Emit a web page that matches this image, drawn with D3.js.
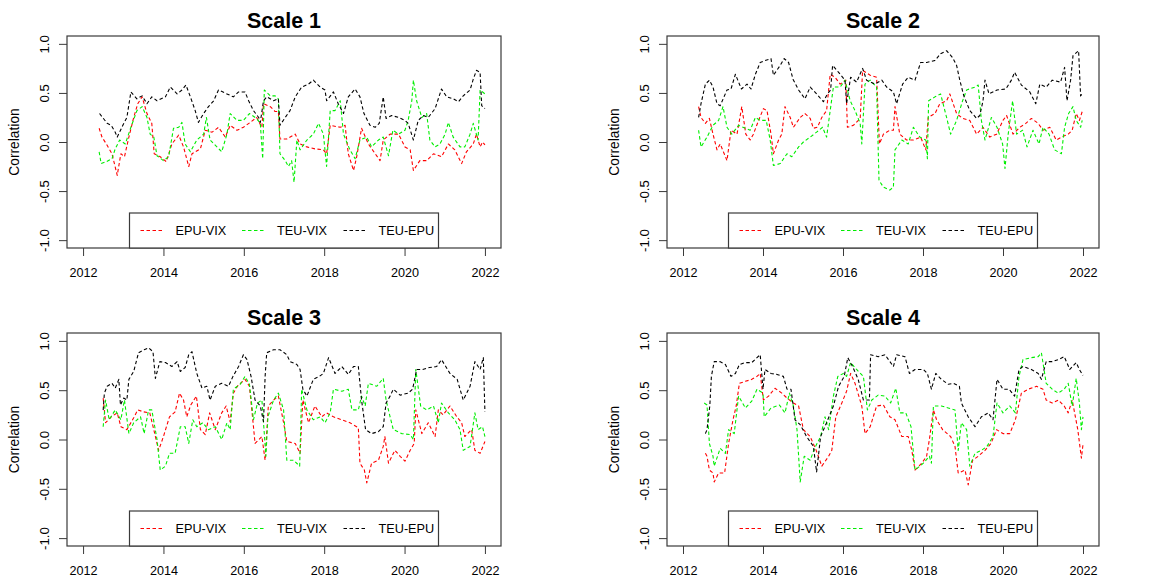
<!DOCTYPE html>
<html>
<head>
<meta charset="utf-8">
<script src="https://cdn.jsdelivr.net/npm/d3@7"></script>
<style>
  body { margin: 0; background: #fff; }
  svg { display: block; font-family: "Liberation Sans", Arial, sans-serif; }
</style>
</head>
<body>
<svg width="1162" height="579"></svg>
<script>
// rolling correlations, [year, correlation]
const scale1EpuVix = [[2012.40,0.14],[2012.47,0.05],[2012.58,-0.02],[2012.72,-0.12],[2012.85,-0.34],[2012.94,-0.12],[2013.03,-0.15],[2013.14,0.05],[2013.26,0.25],[2013.36,0.39],[2013.47,0.46],[2013.59,0.29],[2013.71,0.19],[2013.77,-0.12],[2013.92,-0.15],[2014.07,-0.20],[2014.21,-0.02],[2014.38,0.07],[2014.50,-0.05],[2014.63,-0.25],[2014.71,-0.12],[2014.92,-0.07],[2015.04,0.12],[2015.21,0.10],[2015.37,0.15],[2015.54,0.05],[2015.66,0.17],[2015.83,0.12],[2015.99,0.15],[2016.16,0.20],[2016.32,0.25],[2016.45,0.15],[2016.49,0.39],[2016.66,0.36],[2016.78,0.31],[2016.86,0.31],[2016.90,0.03],[2017.07,0.03],[2017.28,0.08],[2017.40,-0.02],[2017.57,-0.05],[2017.77,-0.07],[2017.98,-0.08],[2018.06,-0.12],[2018.15,0.17],[2018.40,0.15],[2018.52,0.17],[2018.60,-0.12],[2018.73,-0.29],[2018.81,-0.15],[2018.93,0.14],[2019.10,-0.02],[2019.27,-0.12],[2019.39,-0.19],[2019.47,0.02],[2019.64,0.08],[2019.85,0.08],[2020.01,-0.05],[2020.14,-0.08],[2020.22,-0.29],[2020.38,-0.19],[2020.55,-0.19],[2020.72,-0.12],[2020.92,-0.15],[2021.09,-0.02],[2021.25,-0.08],[2021.42,-0.22],[2021.54,-0.10],[2021.71,-0.02],[2021.79,0.08],[2021.88,-0.05],[2021.94,0.00],[2022.00,-0.03]]
const scale1TeuVix = [[2012.40,-0.10],[2012.45,-0.22],[2012.58,-0.20],[2012.72,-0.17],[2012.80,-0.07],[2012.91,0.02],[2013.05,-0.02],[2013.19,0.15],[2013.34,0.32],[2013.47,0.36],[2013.59,0.25],[2013.67,0.08],[2013.76,0.05],[2013.84,-0.14],[2014.00,-0.19],[2014.13,-0.15],[2014.25,0.14],[2014.38,0.15],[2014.46,0.20],[2014.54,-0.02],[2014.67,-0.10],[2014.83,0.02],[2015.00,0.08],[2015.07,0.25],[2015.16,0.02],[2015.33,-0.05],[2015.45,-0.10],[2015.58,0.08],[2015.66,0.29],[2015.83,0.22],[2015.99,0.22],[2016.14,0.29],[2016.32,0.24],[2016.41,0.19],[2016.47,-0.17],[2016.51,0.53],[2016.66,0.47],[2016.78,0.47],[2016.86,0.44],[2016.90,-0.12],[2017.03,-0.19],[2017.11,-0.25],[2017.19,-0.19],[2017.25,-0.41],[2017.32,0.02],[2017.40,-0.08],[2017.57,0.02],[2017.73,0.08],[2017.86,0.19],[2017.98,0.08],[2018.06,-0.25],[2018.15,0.32],[2018.27,0.32],[2018.40,0.42],[2018.48,0.08],[2018.64,-0.08],[2018.77,-0.17],[2018.89,0.02],[2019.06,0.05],[2019.18,-0.05],[2019.35,0.02],[2019.47,0.05],[2019.60,-0.14],[2019.71,0.12],[2019.85,0.08],[2020.01,0.12],[2020.09,0.22],[2020.18,0.42],[2020.22,0.63],[2020.30,0.42],[2020.43,0.25],[2020.55,0.29],[2020.63,0.02],[2020.76,-0.05],[2020.88,-0.02],[2021.01,0.08],[2021.09,0.20],[2021.21,0.05],[2021.38,-0.05],[2021.50,-0.05],[2021.63,0.08],[2021.71,0.19],[2021.83,0.02],[2021.88,0.53],[2022.00,0.49]]
const scale1TeuEpu = [[2012.41,0.29],[2012.60,0.19],[2012.70,0.17],[2012.80,0.10],[2012.85,0.05],[2012.99,0.17],[2013.09,0.25],[2013.19,0.51],[2013.34,0.44],[2013.47,0.47],[2013.59,0.39],[2013.71,0.46],[2013.84,0.42],[2014.05,0.46],[2014.17,0.56],[2014.34,0.49],[2014.46,0.53],[2014.56,0.58],[2014.67,0.46],[2014.79,0.32],[2014.87,0.20],[2015.00,0.29],[2015.12,0.36],[2015.25,0.42],[2015.37,0.53],[2015.58,0.49],[2015.74,0.46],[2015.87,0.51],[2016.03,0.51],[2016.12,0.42],[2016.24,0.32],[2016.37,0.25],[2016.41,0.20],[2016.49,0.42],[2016.57,0.46],[2016.74,0.42],[2016.86,0.44],[2016.90,0.17],[2017.03,0.25],[2017.15,0.32],[2017.28,0.46],[2017.44,0.56],[2017.61,0.59],[2017.73,0.63],[2017.90,0.56],[2018.02,0.53],[2018.06,0.42],[2018.23,0.51],[2018.35,0.39],[2018.48,0.29],[2018.60,0.46],[2018.77,0.54],[2018.89,0.46],[2018.99,0.29],[2019.14,0.17],[2019.27,0.15],[2019.37,0.19],[2019.47,0.46],[2019.54,0.24],[2019.68,0.27],[2019.85,0.25],[2020.01,0.22],[2020.09,0.19],[2020.22,0.02],[2020.34,0.22],[2020.47,0.27],[2020.59,0.25],[2020.76,0.34],[2020.92,0.54],[2021.05,0.46],[2021.21,0.44],[2021.34,0.41],[2021.46,0.47],[2021.63,0.53],[2021.71,0.64],[2021.79,0.73],[2021.88,0.71],[2021.92,0.37],[2022.00,0.34]]

const scale2EpuVix = [[2012.39,0.36],[2012.45,0.25],[2012.56,0.19],[2012.66,0.24],[2012.75,0.08],[2012.85,-0.08],[2012.93,-0.02],[2013.03,-0.12],[2013.10,-0.19],[2013.20,0.12],[2013.35,0.08],[2013.47,0.36],[2013.57,0.08],[2013.68,0.02],[2013.76,0.08],[2013.89,0.22],[2014.01,0.34],[2014.10,0.32],[2014.20,0.08],[2014.26,-0.12],[2014.39,0.02],[2014.47,0.08],[2014.55,0.36],[2014.68,0.25],[2014.76,0.15],[2014.93,0.25],[2015.05,0.29],[2015.18,0.24],[2015.26,0.14],[2015.36,0.15],[2015.47,0.25],[2015.59,0.32],[2015.68,0.69],[2015.80,0.66],[2015.93,0.59],[2016.07,0.63],[2016.11,0.15],[2016.26,0.17],[2016.43,0.24],[2016.49,0.73],[2016.68,0.68],[2016.84,0.66],[2016.91,-0.02],[2017.01,0.08],[2017.17,0.12],[2017.26,0.12],[2017.30,0.36],[2017.42,0.08],[2017.59,0.02],[2017.76,0.02],[2017.94,0.05],[2018.07,-0.08],[2018.13,0.25],[2018.30,0.29],[2018.42,0.39],[2018.59,0.42],[2018.67,0.49],[2018.84,0.29],[2018.99,0.24],[2019.17,0.22],[2019.34,0.08],[2019.50,0.15],[2019.67,0.05],[2019.84,0.08],[2020.00,0.22],[2020.09,0.27],[2020.25,0.08],[2020.42,0.15],[2020.57,0.19],[2020.71,0.24],[2020.88,0.19],[2021.00,0.12],[2021.17,0.15],[2021.33,0.02],[2021.46,0.05],[2021.63,0.08],[2021.73,0.12],[2021.83,0.29],[2021.91,0.22],[2021.98,0.31]]
const scale2TeuVix = [[2012.39,0.12],[2012.45,-0.05],[2012.60,0.05],[2012.75,0.17],[2012.89,0.22],[2013.00,0.36],[2013.10,0.15],[2013.22,0.08],[2013.39,0.17],[2013.56,0.14],[2013.68,0.12],[2013.81,0.25],[2013.93,0.22],[2014.08,0.22],[2014.18,0.02],[2014.26,-0.24],[2014.43,-0.22],[2014.60,-0.12],[2014.72,-0.15],[2014.89,-0.05],[2015.01,0.00],[2015.18,0.05],[2015.34,0.10],[2015.49,0.15],[2015.59,0.05],[2015.68,0.32],[2015.76,0.56],[2015.93,0.56],[2016.05,0.63],[2016.18,0.42],[2016.30,0.32],[2016.43,0.19],[2016.47,-0.02],[2016.55,0.59],[2016.68,0.63],[2016.84,0.56],[2016.90,-0.39],[2017.01,-0.46],[2017.17,-0.49],[2017.26,-0.46],[2017.30,-0.08],[2017.47,0.02],[2017.63,-0.02],[2017.76,0.15],[2017.92,0.05],[2018.07,0.02],[2018.11,-0.17],[2018.14,0.42],[2018.30,0.46],[2018.44,0.49],[2018.59,0.25],[2018.69,0.08],[2018.84,0.22],[2018.99,0.42],[2019.09,0.53],[2019.30,0.56],[2019.38,0.58],[2019.46,0.22],[2019.55,0.02],[2019.71,0.25],[2019.85,0.15],[2019.99,-0.02],[2020.05,-0.27],[2020.13,0.08],[2020.24,0.42],[2020.34,0.08],[2020.49,0.12],[2020.60,-0.05],[2020.75,0.12],[2020.90,-0.02],[2021.00,0.15],[2021.15,0.08],[2021.29,-0.08],[2021.46,-0.12],[2021.54,0.15],[2021.64,0.29],[2021.75,0.36],[2021.83,0.22],[2021.94,0.15],[2021.98,0.22]]
const scale2TeuEpu = [[2012.39,0.25],[2012.45,0.39],[2012.56,0.59],[2012.66,0.63],[2012.75,0.56],[2012.85,0.39],[2012.93,0.37],[2013.10,0.53],[2013.20,0.54],[2013.31,0.69],[2013.46,0.54],[2013.60,0.59],[2013.70,0.54],[2013.81,0.69],[2013.93,0.81],[2014.05,0.83],[2014.20,0.85],[2014.26,0.68],[2014.43,0.78],[2014.53,0.85],[2014.64,0.81],[2014.75,0.64],[2014.89,0.53],[2015.05,0.44],[2015.18,0.56],[2015.34,0.49],[2015.51,0.41],[2015.61,0.49],[2015.69,0.53],[2015.74,0.78],[2015.89,0.71],[2016.05,0.63],[2016.09,0.39],[2016.19,0.66],[2016.34,0.61],[2016.49,0.75],[2016.59,0.63],[2016.80,0.59],[2016.97,0.63],[2017.09,0.56],[2017.26,0.51],[2017.34,0.39],[2017.49,0.59],[2017.63,0.66],[2017.80,0.63],[2017.94,0.81],[2018.09,0.81],[2018.30,0.83],[2018.44,0.90],[2018.59,0.93],[2018.74,0.86],[2018.84,0.78],[2018.92,0.63],[2019.02,0.47],[2019.17,0.32],[2019.34,0.24],[2019.42,0.27],[2019.50,0.42],[2019.55,0.63],[2019.65,0.49],[2019.85,0.53],[2020.07,0.54],[2020.21,0.63],[2020.29,0.71],[2020.46,0.58],[2020.67,0.51],[2020.82,0.39],[2020.92,0.59],[2021.08,0.56],[2021.23,0.63],[2021.44,0.61],[2021.54,0.76],[2021.60,0.42],[2021.69,0.63],[2021.75,0.88],[2021.89,0.93],[2021.94,0.47],[2021.98,0.49]]

const scale3EpuVix = [[2012.50,0.42],[2012.56,0.17],[2012.70,0.23],[2012.85,0.27],[2012.94,0.13],[2013.09,0.10],[2013.26,0.22],[2013.36,0.30],[2013.51,0.28],[2013.66,0.27],[2013.76,0.10],[2013.88,-0.11],[2014.00,0.03],[2014.15,0.23],[2014.29,0.28],[2014.40,0.47],[2014.50,0.40],[2014.58,0.23],[2014.68,0.35],[2014.82,0.44],[2014.92,0.10],[2015.04,0.05],[2015.15,0.27],[2015.29,0.10],[2015.45,0.27],[2015.56,0.34],[2015.66,0.18],[2015.74,0.47],[2015.84,0.54],[2016.03,0.61],[2016.14,0.54],[2016.24,0.13],[2016.28,-0.04],[2016.45,0.03],[2016.53,-0.21],[2016.61,0.34],[2016.74,0.40],[2016.86,0.44],[2016.99,0.17],[2017.07,-0.02],[2017.28,-0.04],[2017.40,-0.14],[2017.47,0.40],[2017.61,0.17],[2017.77,0.34],[2017.94,0.23],[2018.06,0.27],[2018.23,0.23],[2018.44,0.20],[2018.64,0.17],[2018.85,0.12],[2018.89,-0.24],[2019.00,-0.31],[2019.06,-0.44],[2019.18,-0.24],[2019.35,-0.21],[2019.47,-0.07],[2019.51,0.03],[2019.60,-0.24],[2019.76,-0.11],[2019.89,-0.17],[2020.01,-0.22],[2020.14,-0.11],[2020.24,-0.04],[2020.28,0.30],[2020.43,0.06],[2020.59,0.17],[2020.76,0.03],[2020.84,0.30],[2020.96,0.25],[2021.13,0.34],[2021.30,0.23],[2021.42,0.17],[2021.50,0.03],[2021.67,0.10],[2021.75,-0.11],[2021.88,-0.14],[2022.00,-0.02]]
const scale3TeuVix = [[2012.50,0.13],[2012.56,0.40],[2012.65,0.20],[2012.80,0.30],[2012.94,0.20],[2013.03,0.40],[2013.14,0.06],[2013.26,0.17],[2013.43,0.23],[2013.52,0.06],[2013.63,0.30],[2013.71,0.30],[2013.84,0.00],[2013.92,-0.31],[2014.05,-0.27],[2014.15,-0.14],[2014.29,-0.14],[2014.42,0.13],[2014.54,0.13],[2014.63,-0.04],[2014.73,0.20],[2014.83,0.13],[2014.98,0.17],[2015.12,0.10],[2015.29,0.13],[2015.45,0.00],[2015.58,0.17],[2015.66,0.10],[2015.74,0.51],[2015.91,0.56],[2016.03,0.64],[2016.14,0.56],[2016.24,0.20],[2016.34,0.37],[2016.45,0.40],[2016.55,-0.17],[2016.60,0.23],[2016.74,0.40],[2016.86,0.47],[2016.99,0.30],[2017.07,-0.21],[2017.24,-0.21],[2017.39,-0.27],[2017.44,0.51],[2017.57,0.30],[2017.73,0.20],[2017.90,0.23],[2018.02,0.17],[2018.15,0.27],[2018.23,0.51],[2018.44,0.49],[2018.60,0.51],[2018.69,0.30],[2018.85,0.30],[2018.93,0.44],[2019.02,0.34],[2019.10,0.57],[2019.31,0.54],[2019.47,0.62],[2019.54,0.40],[2019.64,0.23],[2019.72,0.10],[2019.93,0.06],[2020.14,0.05],[2020.22,0.00],[2020.28,0.71],[2020.40,0.34],[2020.55,0.30],[2020.72,0.34],[2020.84,0.17],[2020.92,0.37],[2021.09,0.27],[2021.25,0.20],[2021.38,0.10],[2021.46,-0.11],[2021.63,-0.07],[2021.75,0.27],[2021.83,0.10],[2021.94,0.13],[2022.00,0.03]]
const scale3TeuEpu = [[2012.50,0.30],[2012.53,0.47],[2012.60,0.54],[2012.72,0.57],[2012.80,0.52],[2012.89,0.61],[2012.93,0.35],[2013.01,0.42],[2013.09,0.40],[2013.14,0.61],[2013.26,0.69],[2013.38,0.88],[2013.52,0.91],[2013.63,0.93],[2013.74,0.89],[2013.80,0.62],[2013.91,0.79],[2014.05,0.78],[2014.21,0.74],[2014.34,0.79],[2014.42,0.69],[2014.54,0.73],[2014.63,0.86],[2014.71,0.89],[2014.83,0.67],[2014.96,0.52],[2015.08,0.54],[2015.16,0.40],[2015.29,0.54],[2015.45,0.57],[2015.62,0.54],[2015.73,0.64],[2015.87,0.74],[2015.99,0.86],[2016.08,0.81],[2016.18,0.64],[2016.28,0.40],[2016.41,0.34],[2016.49,0.18],[2016.53,0.64],[2016.57,0.88],[2016.74,0.91],[2016.90,0.91],[2017.07,0.86],[2017.15,0.79],[2017.32,0.76],[2017.40,0.71],[2017.47,0.51],[2017.57,0.44],[2017.73,0.61],[2017.88,0.64],[2017.98,0.67],[2018.11,0.83],[2018.27,0.67],[2018.44,0.74],[2018.60,0.66],[2018.73,0.74],[2018.85,0.74],[2018.93,0.40],[2019.03,0.10],[2019.18,0.06],[2019.35,0.08],[2019.47,0.13],[2019.54,0.37],[2019.64,0.44],[2019.72,0.51],[2019.89,0.45],[2020.09,0.47],[2020.20,0.51],[2020.30,0.71],[2020.45,0.71],[2020.62,0.73],[2020.80,0.74],[2020.92,0.81],[2021.13,0.67],[2021.31,0.61],[2021.46,0.40],[2021.63,0.54],[2021.75,0.79],[2021.88,0.71],[2021.96,0.83],[2022.00,0.28]]

const scale4EpuVix = [[2012.56,-0.14],[2012.60,-0.17],[2012.66,-0.31],[2012.75,-0.34],[2012.78,-0.43],[2012.89,-0.34],[2013.04,-0.34],[2013.14,-0.04],[2013.25,0.20],[2013.33,0.34],[2013.41,0.57],[2013.56,0.59],[2013.72,0.61],[2013.85,0.64],[2013.93,0.67],[2014.01,0.40],[2014.14,0.44],[2014.30,0.52],[2014.47,0.47],[2014.60,0.42],[2014.76,0.37],[2014.89,0.34],[2015.01,0.10],[2015.18,0.03],[2015.33,-0.11],[2015.47,-0.27],[2015.64,-0.17],[2015.72,-0.11],[2015.82,0.23],[2015.97,0.37],[2016.09,0.49],[2016.19,0.67],[2016.30,0.57],[2016.47,0.34],[2016.55,0.06],[2016.68,0.13],[2016.84,0.34],[2017.01,0.35],[2017.17,0.23],[2017.30,0.20],[2017.47,0.03],[2017.63,0.03],[2017.72,-0.11],[2017.80,-0.31],[2017.97,-0.24],[2018.09,-0.17],[2018.16,0.00],[2018.26,0.30],[2018.34,0.20],[2018.49,0.10],[2018.69,0.03],[2018.80,-0.07],[2018.88,-0.34],[2019.05,-0.31],[2019.13,-0.46],[2019.24,-0.21],[2019.38,-0.17],[2019.55,-0.11],[2019.70,-0.04],[2019.84,0.10],[2020.00,0.06],[2020.17,0.06],[2020.31,0.20],[2020.46,0.47],[2020.63,0.51],[2020.84,0.54],[2021.00,0.51],[2021.08,0.40],[2021.23,0.37],[2021.38,0.40],[2021.53,0.34],[2021.63,0.27],[2021.73,0.40],[2021.87,0.10],[2021.96,-0.19],[2022.00,-0.05]]
const scale4TeuVix = [[2012.53,0.37],[2012.60,0.35],[2012.66,-0.04],[2012.75,-0.17],[2012.78,-0.27],[2012.93,-0.09],[2013.06,-0.14],[2013.14,0.10],[2013.28,0.06],[2013.39,0.44],[2013.56,0.32],[2013.72,0.39],[2013.85,0.51],[2014.00,0.47],[2014.03,0.23],[2014.20,0.32],[2014.41,0.35],[2014.55,0.27],[2014.66,0.47],[2014.76,0.34],[2014.85,0.10],[2014.93,-0.43],[2015.03,-0.17],[2015.18,-0.21],[2015.29,-0.09],[2015.44,0.03],[2015.55,0.23],[2015.64,0.10],[2015.76,0.44],[2015.87,0.64],[2016.01,0.67],[2016.09,0.64],[2016.19,0.78],[2016.34,0.71],[2016.51,0.64],[2016.61,0.30],[2016.72,0.40],[2016.88,0.45],[2017.05,0.44],[2017.19,0.37],[2017.32,0.52],[2017.42,0.27],[2017.57,0.27],[2017.70,0.13],[2017.80,-0.31],[2018.01,-0.24],[2018.16,-0.17],[2018.21,-0.24],[2018.26,0.34],[2018.46,0.34],[2018.63,0.32],[2018.80,0.30],[2018.88,-0.11],[2018.96,0.17],[2019.09,0.10],[2019.17,-0.27],[2019.30,-0.14],[2019.46,-0.11],[2019.60,-0.07],[2019.75,0.03],[2019.85,0.37],[2020.00,0.27],[2020.17,0.34],[2020.31,0.27],[2020.40,0.64],[2020.50,0.81],[2020.71,0.83],[2020.88,0.84],[2020.96,0.88],[2021.08,0.57],[2021.23,0.51],[2021.38,0.47],[2021.53,0.51],[2021.63,0.57],[2021.73,0.34],[2021.83,0.62],[2021.91,0.37],[2021.96,0.10],[2022.00,0.23]]
const scale4TeuEpu = [[2012.56,0.06],[2012.60,0.10],[2012.67,0.34],[2012.71,0.64],[2012.78,0.79],[2012.92,0.79],[2013.06,0.76],[2013.20,0.64],[2013.31,0.67],[2013.41,0.76],[2013.56,0.78],[2013.72,0.78],[2013.85,0.83],[2013.93,0.86],[2014.00,0.51],[2014.05,0.71],[2014.20,0.67],[2014.35,0.66],[2014.51,0.64],[2014.60,0.51],[2014.70,0.51],[2014.80,0.20],[2014.93,0.15],[2015.09,0.03],[2015.26,-0.07],[2015.34,-0.33],[2015.44,0.03],[2015.59,0.17],[2015.76,0.34],[2015.89,0.54],[2016.03,0.64],[2016.12,0.83],[2016.24,0.74],[2016.38,0.61],[2016.51,0.40],[2016.66,0.40],[2016.69,0.86],[2016.88,0.84],[2017.05,0.86],[2017.26,0.74],[2017.34,0.86],[2017.55,0.84],[2017.66,0.67],[2017.80,0.71],[2018.01,0.71],[2018.11,0.67],[2018.21,0.51],[2018.32,0.67],[2018.46,0.61],[2018.63,0.56],[2018.76,0.57],[2018.91,0.54],[2018.96,0.37],[2019.13,0.23],[2019.30,0.13],[2019.46,0.23],[2019.63,0.27],[2019.75,0.20],[2019.85,0.61],[2020.00,0.51],[2020.15,0.51],[2020.29,0.44],[2020.40,0.71],[2020.50,0.74],[2020.71,0.71],[2020.88,0.67],[2020.96,0.61],[2021.08,0.79],[2021.23,0.79],[2021.38,0.81],[2021.53,0.84],[2021.67,0.71],[2021.83,0.78],[2021.91,0.71],[2022.00,0.65]]

const panelTitles = ["Scale 1", "Scale 2", "Scale 3", "Scale 4"]
const seriesNames = ["EPU-VIX", "TEU-VIX", "TEU-EPU"]
const yearTicks = [2012, 2014, 2016, 2018, 2020, 2022]
const corrTicks = [-1, -0.5, 0, 0.5, 1]

const panelSeries = [
    [scale1EpuVix, scale1TeuVix, scale1TeuEpu],
    [scale2EpuVix, scale2TeuVix, scale2TeuEpu],
    [scale3EpuVix, scale3TeuVix, scale3TeuEpu],
    [scale4EpuVix, scale4TeuVix, scale4TeuEpu]
]

const colors = ["#ff0000", "#00ee00", "#000000"]
const boxColor = "#3a3a3a"

// plot boxes in page pixels
const boxes = [
    { left: 67, top: 36, width: 434, height: 212 },
    { left: 667, top: 36, width: 432, height: 212 },
    { left: 67, top: 333, width: 434, height: 213 },
    { left: 667, top: 333, width: 432, height: 213 }
]

let svg = d3.select("svg")

panelSeries.forEach((series, i) => drawPanel(boxes[i], panelTitles[i], series))

function drawPanel(box, title, series) {
    let g = svg.append("g")
        .attr("transform", `translate(${box.left}, ${box.top})`)

    // R-style 4% padding around xlim 2012-2022 and ylim -1..1
    let x = d3.scaleLinear().domain([2011.6, 2022.4]).range([0, box.width])
    let y = d3.scaleLinear().domain([-1.08, 1.08]).range([box.height, 0])

    let line = d3.line()
        .x(d => x(d[0]))
        .y(d => y(d[1]))

    series.forEach((s, k) => {
        g.append("path")
            .datum(s)
            .attr("fill", "none")
            .attr("stroke", colors[k])
            .attr("stroke-width", 1.1)
            .attr("stroke-dasharray", "3.5,2.5")
            .attr("stroke-linejoin", "round")
            .attr("d", line)
    })

    // x axis
    let xAxis = g.append("g")
        .attr("transform", `translate(0, ${box.height})`)
        .call(d3.axisBottom(x).tickValues(yearTicks).tickFormat(d3.format("d"))
            .tickSize(8).tickSizeOuter(0).tickPadding(12.5))
    xAxis.select(".domain").remove()
    xAxis.selectAll("line").attr("stroke", boxColor)
    xAxis.selectAll("text")
        .attr("fill", "#000")
        .style("font-size", "12.6px")
        .style("font-family", "'Liberation Sans', Arial, sans-serif")

    // y axis, labels rotated like R's las=0
    let yAxis = g.append("g")
        .call(d3.axisLeft(y).tickValues(corrTicks).tickFormat(d => d.toFixed(1))
            .tickSize(8).tickSizeOuter(0))
    yAxis.select(".domain").remove()
    yAxis.selectAll("line").attr("stroke", boxColor)
    yAxis.selectAll("text")
        .attr("fill", "#000")
        .attr("x", 0)
        .attr("y", -23)
        .attr("dy", "0.36em")
        .attr("text-anchor", "middle")
        .attr("transform", "rotate(-90)")
        .style("font-size", "13.2px")
        .style("font-family", "'Liberation Sans', Arial, sans-serif")

    // box
    g.append("rect")
        .attr("width", box.width)
        .attr("height", box.height)
        .attr("fill", "none")
        .attr("stroke", boxColor)
        .attr("stroke-width", 1.2)

    g.append("text")
        .text("Correlation")
        .attr("transform", `translate(${-53}, ${box.height / 2}) rotate(-90)`)
        .attr("text-anchor", "middle")
        .attr("dy", "0.35em")
        .style("font-size", "13.8px")

    g.append("text")
        .text(title)
        .attr("x", box.width / 2)
        .attr("y", -8.5)
        .attr("text-anchor", "middle")
        .style("font-size", "21.5px")
        .style("font-weight", "bold")

    // legend at bottom, horizontal
    let legW = 309, legH = 35
    let leg = g.append("g")
        .attr("transform", `translate(${(box.width - legW) / 2}, ${box.height - legH})`)
    leg.append("rect")
        .attr("width", legW)
        .attr("height", legH)
        .attr("fill", "#fff")
        .attr("stroke", boxColor)
        .attr("stroke-width", 1.2)

    let item = leg.selectAll("g.item")
        .data(seriesNames)
        .join("g")
        .attr("class", "item")
        .attr("transform", (d, k) => `translate(${11 + k * 101.5}, ${legH / 2})`)
    item.append("line")
        .attr("x1", 0)
        .attr("x2", 23)
        .attr("stroke", (d, k) => colors[k])
        .attr("stroke-width", 1.1)
        .attr("stroke-dasharray", "3.5,2.5")
    item.append("text")
        .text(d => d)
        .attr("x", 35)
        .attr("dy", "0.35em")
        .style("font-size", "12.7px")
}
</script>
</body>
</html>
